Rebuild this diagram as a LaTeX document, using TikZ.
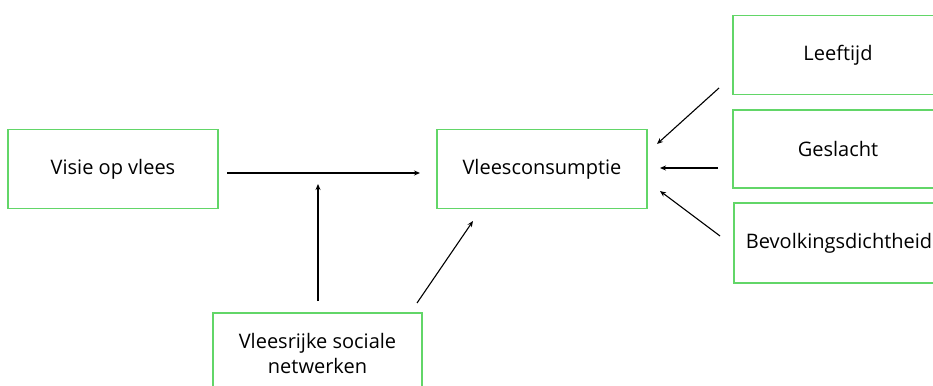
\documentclass[tikz,border=0pt]{standalone}
\usepackage{fontspec}
\setmainfont{Open Sans}
\usetikzlibrary{arrows.meta}
\definecolor{boxgreen}{RGB}{98,214,104}
\begin{document}
\begin{tikzpicture}[x=1pt,y=-1pt,
  box/.style={draw=boxgreen,line width=1.6pt,fill=white,inner sep=0pt,font=\fontsize{20}{25}\selectfont},
  conn/.style={line width=1.1pt,-{Stealth[length=6pt,width=5pt]}}]
\clip (0,0) rectangle (933,385);
\fill[white] (0,0) rectangle (933,385);
\node[box,minimum width=210pt,minimum height=79pt] (visie) at (113,169) {Visie op vlees};
\node[box,minimum width=210pt,minimum height=79pt] (vlees) at (542,169) {Vleesconsumptie};
\node[box,minimum width=210pt,minimum height=79pt] (leef) at (838,55) {Leeftijd};
\node[box,minimum width=210pt,minimum height=78pt] (gesl) at (838,149) {Geslacht};
\node[box,minimum width=210pt,minimum height=80pt] (bev) at (839,243) {Bevolkingsdichtheid};
\node[box,minimum width=209pt,minimum height=100pt] (soc) at (317.5,363) {};
\node[font=\fontsize{20}{25}\selectfont,align=center,inner sep=0pt] (soctext) at (317.5,353) {Vleesrijke sociale\\netwerken};
\coordinate (a1s) at (227,173); \coordinate (a1e) at (420,173);
\coordinate (a2s) at (318,301); \coordinate (a2e) at (318,184);
\coordinate (a3s) at (417,303); \coordinate (a3e) at (473,221);
\coordinate (a4s) at (719,88); \coordinate (a4e) at (657,144);
\coordinate (a5s) at (718,168); \coordinate (a5e) at (660,168);
\coordinate (a6s) at (720,236); \coordinate (a6e) at (660,191);
\draw[conn] (a1s) -- (a1e);
\draw[conn] (a2s) -- (a2e);
\draw[conn] (a3s) -- (a3e);
\draw[conn] (a4s) -- (a4e);
\draw[conn] (a5s) -- (a5e);
\draw[conn] (a6s) -- (a6e);
\end{tikzpicture}
\end{document}
